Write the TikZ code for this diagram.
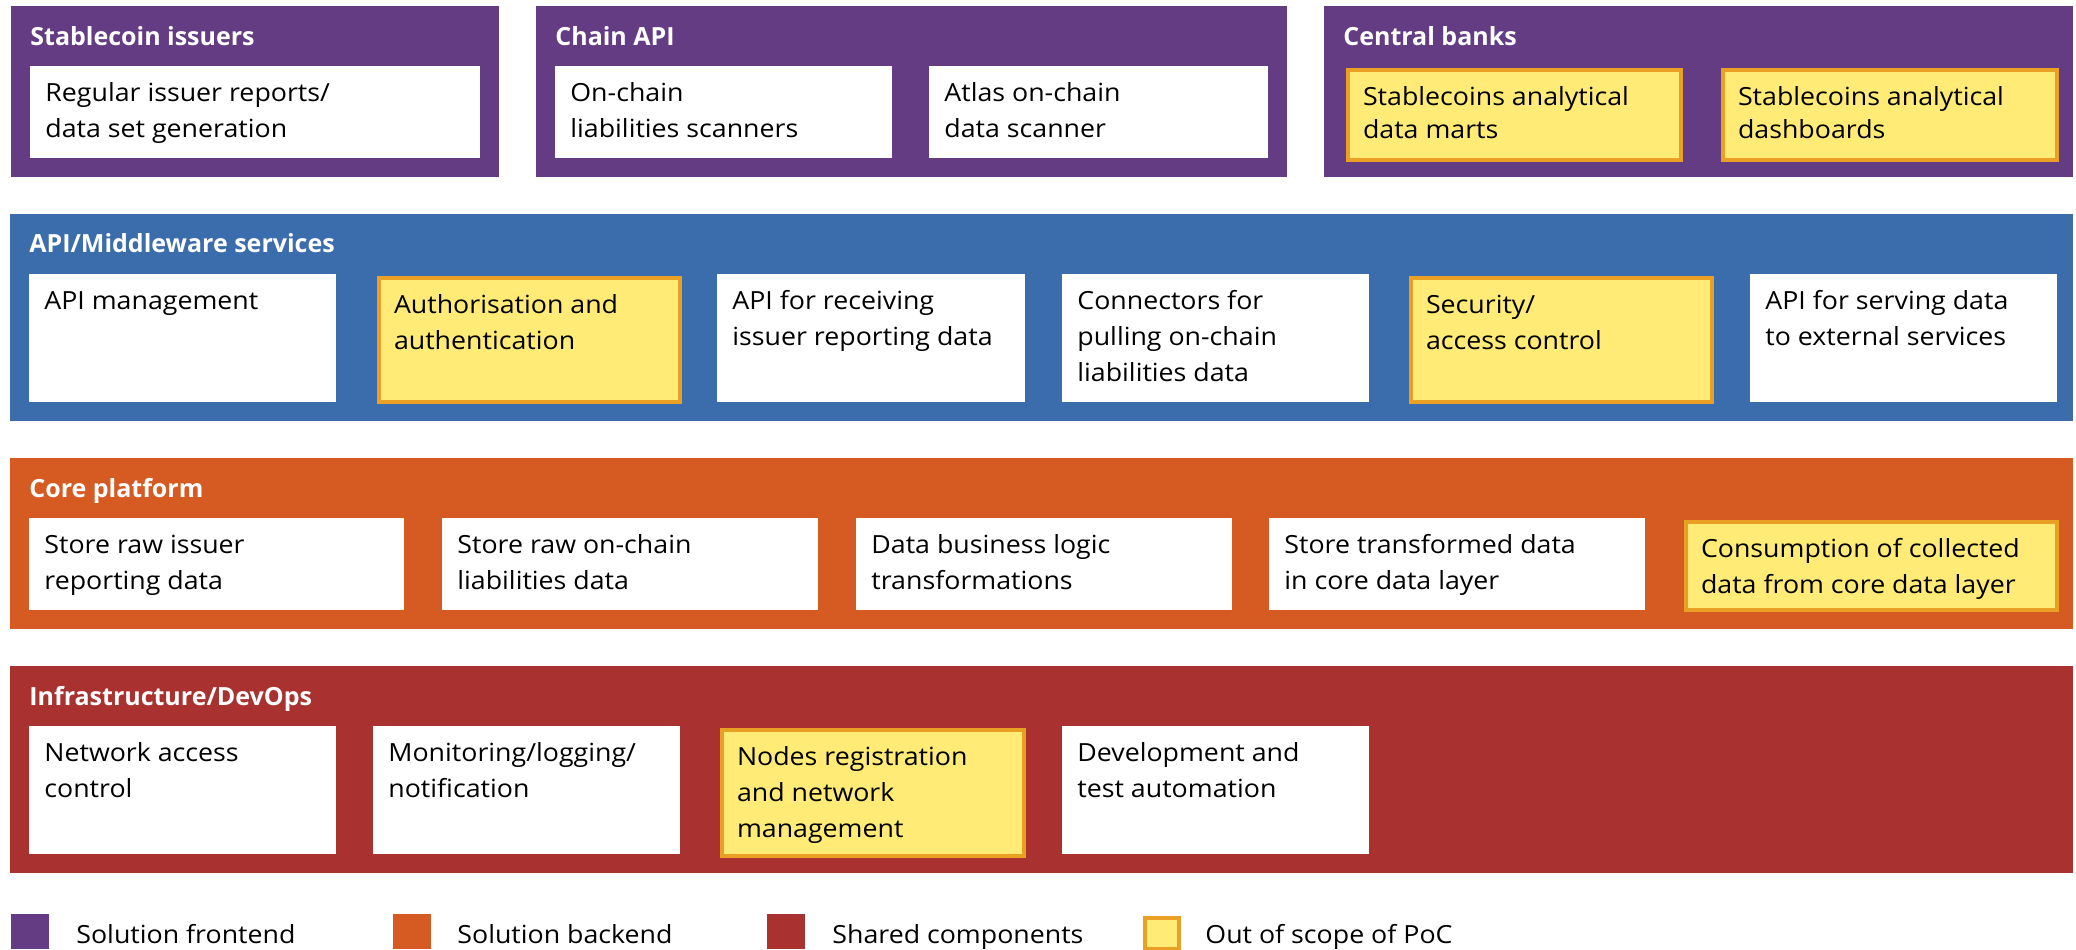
\documentclass[tikz,border=0pt]{standalone}
\usepackage{fontspec}
\setmainfont{Open Sans}[FakeStretch=1.07]
\newfontfamily\headfont{Open Sans}
\usetikzlibrary{positioning}
\usepackage{xcolor}

\definecolor{frontend}{RGB}{99,60,131}
\definecolor{middleware}{RGB}{59,108,172}
\definecolor{backend}{RGB}{214,91,34}
\definecolor{shared}{RGB}{169,50,48}
\definecolor{scopefill}{RGB}{255,235,117}
\definecolor{scopeline}{RGB}{233,160,36}

% box text: width (px), height (px), lines
\newcommand{\boxtext}[3]{\begin{minipage}[t][\dimexpr#2pt/2\relax][t]{\dimexpr#1pt/2-15pt\relax}\raggedright\vspace*{5pt}\strut#3\end{minipage}}

\begin{document}
\begin{tikzpicture}[x=0.5pt, y=-0.5pt]
                \tikzstyle{panel} = [anchor=north west, inner sep=0pt, minimum height=85.5pt];
                \tikzstyle{heading} = [anchor=base west, inner sep=0pt, text=white, font=\headfont\fontsize{12.5}{18}\selectfont\bfseries];
                \tikzstyle{card} = [anchor=north west, fill=white, inner xsep=7.5pt, inner ysep=0pt, font=\fontsize{12.5}{18}\selectfont];
                \tikzstyle{outscope} = [card, fill=scopefill, draw=scopeline, line width=2pt];
                \tikzstyle{swatch} = [anchor=north west, inner sep=0pt, minimum width=19pt, minimum height=17.5pt];
                \tikzstyle{legend} = [anchor=base west, inner sep=0pt, font=\fontsize{12.5}{18}\selectfont];

                \useasboundingbox (0,0) rectangle (2076,949);

                % row 1: frontends
                \node[panel, fill=frontend, minimum width=244pt](issuers) at (11,6) {};
                \node[panel, fill=frontend, minimum width=375.5pt](chainapi) at (536,6) {};
                \node[panel, fill=frontend, minimum width=374.5pt](cbanks) at (1324,6) {};
                \node[heading](issuersT) at (30,45) {Stablecoin issuers};
                \node[heading](chainapiT) at (555,45) {Chain API};
                \node[heading](cbanksT) at (1343,45) {Central banks};

                \node[card](reports) at (30,66) {\boxtext{450}{92}{Regular issuer reports/\\data set generation}};
                \node[card](scanners) at (555,66) {\boxtext{337}{92}{On-chain\\liabilities scanners}};
                \node[card](atlas) at (929,66) {\boxtext{339}{92}{Atlas on-chain\\data scanner}};
                \node[outscope](marts) at (1346,68) {\boxtext{333}{90}{\vspace*{-1.5pt}Stablecoins analytical\\data marts}};
                \node[outscope](dashboards) at (1721,68) {\boxtext{334}{90}{\vspace*{-1.5pt}Stablecoins analytical\\dashboards}};

                % row 2: middleware
                \node[panel, fill=middleware, minimum width=1031.5pt, minimum height=103.5pt](middle) at (10,214) {};
                \node[heading](middleT) at (29,252) {API/Middleware services};

                \node[card](apimgmt) at (29,274) {\boxtext{307}{128}{API management}};
                \node[outscope](auth) at (377,276) {\boxtext{301}{124}{Authorisation and\\authentication}};
                \node[card](receiving) at (717,274) {\boxtext{308}{128}{API for receiving\\issuer reporting data}};
                \node[card](connectors) at (1062,274) {\boxtext{307}{128}{Connectors for\\pulling on-chain\\liabilities data}};
                \node[outscope](security) at (1409,276) {\boxtext{301}{124}{Security/\\access control}};
                \node[card](serving) at (1750,274) {\boxtext{307}{128}{API for serving data\\to external services}};

                % row 3: core platform
                \node[panel, fill=backend, minimum width=1031.5pt](core) at (10,458) {};
                \node[heading](coreT) at (29,497) {Core platform};

                \node[card](rawissuer) at (29,518) {\boxtext{375}{92}{Store raw issuer\\reporting data}};
                \node[card](rawchain) at (442,518) {\boxtext{376}{92}{Store raw on-chain\\liabilities data}};
                \node[card](logic) at (856,518) {\boxtext{376}{92}{Data business logic\\transformations}};
                \node[card](transformed) at (1269,518) {\boxtext{376}{92}{Store transformed data\\in core data layer}};
                \node[outscope](consumption) at (1684,520) {\boxtext{371}{88}{Consumption of collected\\data from core data layer}};

                % row 4: infrastructure
                \node[panel, fill=shared, minimum width=1031.5pt, minimum height=103.5pt](infra) at (10,666) {};
                \node[heading](infraT) at (29,705) {Infrastructure/DevOps};

                \node[card](netaccess) at (29,726) {\boxtext{307}{128}{Network access\\control}};
                \node[card](monitoring) at (373,726) {\boxtext{307}{128}{Monitoring/logging/\\notification}};
                \node[outscope](nodereg) at (720,728) {\boxtext{302}{126}{Nodes registration\\and network\\management}};
                \node[card](devtest) at (1062,726) {\boxtext{307}{128}{Development and\\test automation}};

                % legend
                \node[swatch, fill=frontend](keyF) at (11,914) {};
                \node[legend](keyFT) at (76,943) {Solution frontend};
                \node[swatch, fill=backend](keyB) at (393,914) {};
                \node[legend](keyBT) at (457,943) {Solution backend};
                \node[swatch, fill=shared](keyS) at (767,914) {};
                \node[legend](keyST) at (832,943) {Shared components};
                \node[swatch, fill=scopefill, draw=scopeline, line width=2pt, minimum width=17pt, minimum height=15.5pt](keyO) at (1143,916) {};
                \node[legend](keyOT) at (1205,943) {Out of scope of PoC};
            \end{tikzpicture}
\end{document}
